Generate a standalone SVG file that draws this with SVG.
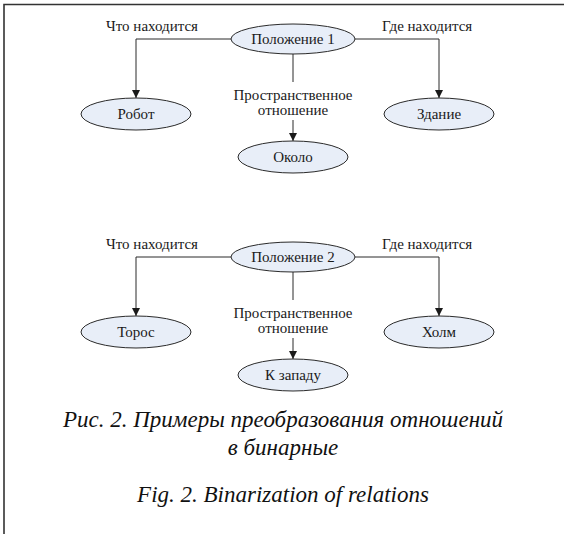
<svg xmlns="http://www.w3.org/2000/svg" width="564" height="534" viewBox="0 0 564 534" font-family="Times New Roman, Liberation Serif, serif">
<style>
.node ellipse{fill:#e8eef8;stroke:#2a2a2a;stroke-width:1}
.edge{fill:none;stroke:#2a2a2a;stroke-width:1}
</style>
<defs>
<marker id="ah" viewBox="0 0 8 10" refX="8" refY="5" markerWidth="8" markerHeight="10" markerUnits="userSpaceOnUse" orient="auto">
<path d="M0,1 L8,5 L0,9 Z" fill="#1a1a1a"/>
</marker>
</defs>
<rect width="564" height="534" fill="#fff"/>
<path d="M4,534 V4.5 H564" fill="none" stroke="#333" stroke-width="1.6"/>

<g id="connectors">
<path class="edge" d="M231,39 H136 V98" marker-end="url(#ah)"/>
<path class="edge" d="M355,39 H439 V98" marker-end="url(#ah)"/>
<path class="edge" d="M293,54 V82"/>
<path class="edge" d="M293,120 V141" marker-end="url(#ah)"/>
<path class="edge" d="M231,257 H136 V316" marker-end="url(#ah)"/>
<path class="edge" d="M355,257 H439 V316" marker-end="url(#ah)"/>
<path class="edge" d="M293,272 V300"/>
<path class="edge" d="M293,338 V359" marker-end="url(#ah)"/>
</g>

<g id="edge-labels">
<text font-family="Times New Roman, Liberation Serif, serif" font-size="15" fill="#1a1a1a" x="198" y="31" text-anchor="end">Что находится</text>
<text font-family="Times New Roman, Liberation Serif, serif" font-size="15" fill="#1a1a1a" x="382" y="31">Где находится</text>
<text font-family="Times New Roman, Liberation Serif, serif" font-size="15" fill="#1a1a1a" x="293" y="100" text-anchor="middle">Пространственное</text>
<text font-family="Times New Roman, Liberation Serif, serif" font-size="15" fill="#1a1a1a" x="293" y="115" text-anchor="middle">отношение</text>
<text font-family="Times New Roman, Liberation Serif, serif" font-size="15" fill="#1a1a1a" x="198" y="249" text-anchor="end">Что находится</text>
<text font-family="Times New Roman, Liberation Serif, serif" font-size="15" fill="#1a1a1a" x="382" y="249">Где находится</text>
<text font-family="Times New Roman, Liberation Serif, serif" font-size="15" fill="#1a1a1a" x="293" y="318" text-anchor="middle">Пространственное</text>
<text font-family="Times New Roman, Liberation Serif, serif" font-size="15" fill="#1a1a1a" x="293" y="333" text-anchor="middle">отношение</text>
</g>

<g id="pos1" class="node"><ellipse cx="293" cy="39" rx="62" ry="15"/><text font-family="Times New Roman, Liberation Serif, serif" font-size="15" fill="#1a1a1a" text-anchor="middle" x="293" y="44">Положение 1</text></g>
<g id="robot" class="node"><ellipse cx="136" cy="114" rx="55" ry="16"/><text font-family="Times New Roman, Liberation Serif, serif" font-size="15" fill="#1a1a1a" text-anchor="middle" x="136" y="119">Робот</text></g>
<g id="building" class="node"><ellipse cx="439" cy="114" rx="55" ry="16"/><text font-family="Times New Roman, Liberation Serif, serif" font-size="15" fill="#1a1a1a" text-anchor="middle" x="439" y="119">Здание</text></g>
<g id="near" class="node"><ellipse cx="293" cy="157" rx="55" ry="16"/><text font-family="Times New Roman, Liberation Serif, serif" font-size="15" fill="#1a1a1a" text-anchor="middle" x="293" y="162">Около</text></g>
<g id="pos2" class="node"><ellipse cx="293" cy="257" rx="62" ry="15"/><text font-family="Times New Roman, Liberation Serif, serif" font-size="15" fill="#1a1a1a" text-anchor="middle" x="293" y="262">Положение 2</text></g>
<g id="toros" class="node"><ellipse cx="136" cy="332" rx="55" ry="16"/><text font-family="Times New Roman, Liberation Serif, serif" font-size="15" fill="#1a1a1a" text-anchor="middle" x="136" y="337">Торос</text></g>
<g id="hill" class="node"><ellipse cx="439" cy="332" rx="55" ry="16"/><text font-family="Times New Roman, Liberation Serif, serif" font-size="15" fill="#1a1a1a" text-anchor="middle" x="439" y="337">Холм</text></g>
<g id="west" class="node"><ellipse cx="293" cy="375" rx="55" ry="16"/><text font-family="Times New Roman, Liberation Serif, serif" font-size="15" fill="#1a1a1a" text-anchor="middle" x="293" y="380">К западу</text></g>

<g id="caption">
<text font-family="Times New Roman, Liberation Serif, serif" font-style="italic" font-size="23" fill="#111" text-anchor="middle" x="283" y="427">Рис. 2. Примеры преобразования отношений</text>
<text font-family="Times New Roman, Liberation Serif, serif" font-style="italic" font-size="23" fill="#111" text-anchor="middle" x="283" y="455">в бинарные</text>
<text font-family="Times New Roman, Liberation Serif, serif" font-style="italic" font-size="23" fill="#111" text-anchor="middle" x="283" y="502">Fig. 2. Binarization of relations</text>
</g>
</svg>
